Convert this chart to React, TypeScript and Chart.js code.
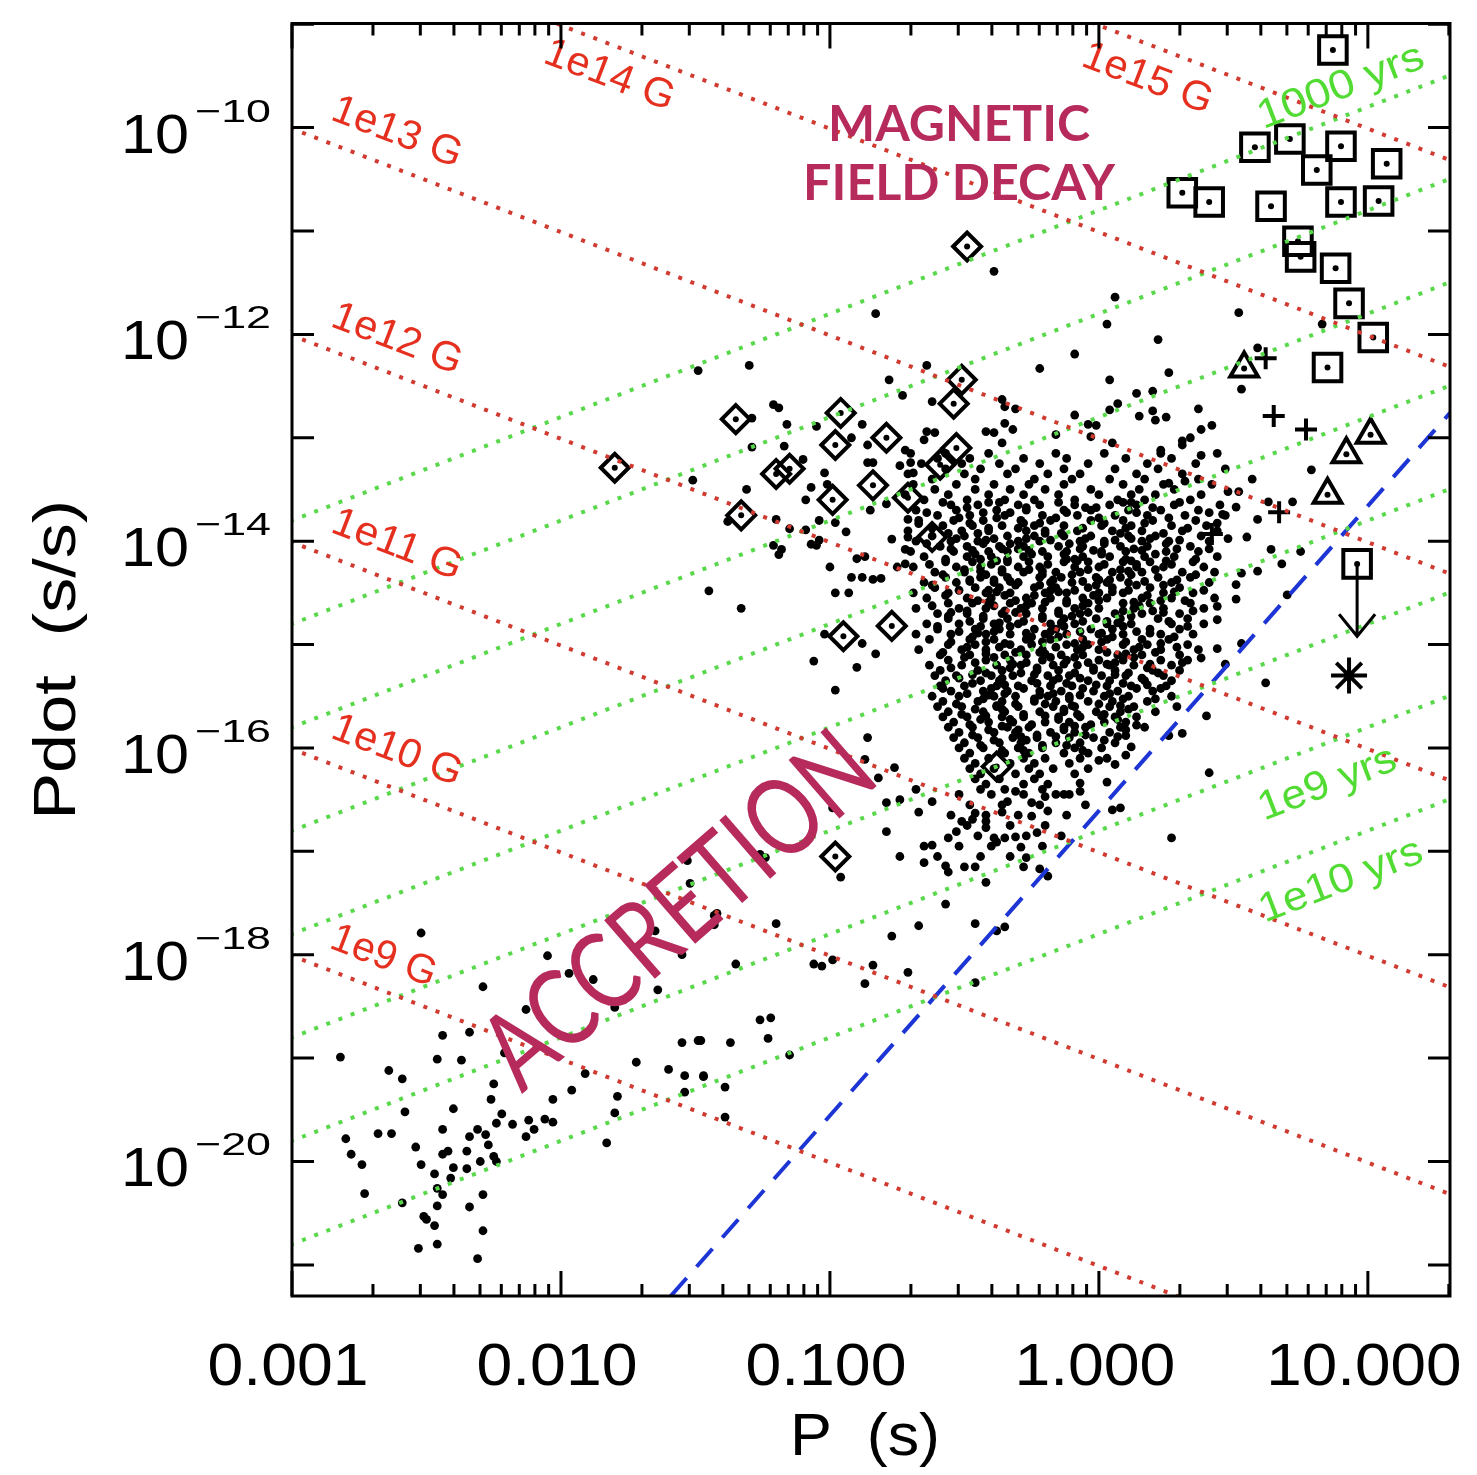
import React, { useEffect, useRef } from "react";
import { Chart, registerables } from "chart.js";

Chart.register(...registerables);

// ---- axis ranges ----
const P_MIN = 0.001;
const P_MAX = 20.2;
const PDOT_MIN = 5.0e-22;
const PDOT_MAX = 1.016e-9;

const xTickValues = [0.001, 0.01, 0.1, 1, 10];
const xTickLabels = ["0.001", "0.010", "0.100", "1.000", "10.000"];
const yTickExponents = [-10, -12, -14, -16, -18, -20];

// ---- theoretical lines ----
const fieldStrengthsG = [1e9, 1e10, 1e11, 1e12, 1e13, 1e14, 1e15];
const characteristicAgesYr = [1e3, 1e4, 1e5, 1e6, 1e7, 1e8, 1e9, 1e10];
const deathLineP = [0.0256, 20.2];
const deathLinePdot = [5.0e-22, 1.74e-13];

// ---- data, in [log10 P, log10 Pdot] ----
const isolatedPulsars: [number, number][] = [
  [-0.39,-11.39],[0.06,-11.64],[0.03,-11.90],[0.52,-11.79],[0.22,-12.05],[-0.09,-12.19],[-0.22,-12.33],[-0.64,-12.30],
  [0.04,-12.44],[0.26,-12.37],[0.53,-12.53],[-0.78,-12.44],[-0.73,-12.59],[-0.62,-12.65],[0.14,-12.57],[0.20,-12.55],
  [0.07,-12.67],[0.04,-12.73],[0.37,-12.72],[-0.09,-12.78],[-0.35,-12.70],[-0.31,-12.72],[-0.36,-12.63],[0.15,-12.79],
  [0.20,-12.74],[0.21,-12.83],[0.25,-12.80],[-0.35,-12.86],[-0.32,-12.92],[-0.42,-12.94],[-0.39,-12.95],[-0.01,-12.88],
  [-0.04,-12.87],[-0.03,-12.99],[0.38,-12.92],[0.42,-12.88],[0.34,-13.00],[-0.64,-12.94],[-0.61,-12.95],[-0.65,-13.02],
  [-0.36,-13.05],[-0.16,-12.97],[0.05,-13.05],[0.31,-13.03],[-0.83,-11.80],[-1.49,-12.35],[-1.30,-12.30],[0.83,-11.90],
  [0.59,-12.13],[0.31,-13.07],[0.23,-13.12],[0.38,-13.17],
  [0.79,-13.31],[0.57,-13.40],[0.26,-13.44],[0.32,-13.42],[0.48,-13.52],[0.52,-13.52],[0.72,-13.62],[0.63,-13.62],
  [0.59,-13.79],[0.51,-13.67],[0.46,-13.74],[0.64,-14.08],[0.75,-14.10],[0.68,-14.22],[0.55,-13.96],[0.59,-14.29],
  [0.53,-14.31],[0.51,-14.42],[0.51,-14.56],[0.44,-14.63],[0.44,-14.76],[0.70,-14.52],[0.53,-14.99],[0.44,-15.04],
  [0.47,-15.19],[0.62,-15.37],[0.38,-15.13],
  [-1.21,-12.68],[-1.19,-12.71],[-1.29,-12.81],[-1.16,-12.87],[-1.29,-13.09],[-1.17,-13.08],[-1.05,-12.89],[-1.51,-13.41],
  [-1.31,-13.50],[-1.10,-13.21],[-1.02,-13.34],[-1.07,-13.48],[-1.09,-13.60],[-1.01,-13.45],[-0.88,-12.87],[-0.92,-13.00],
  [-0.86,-13.07],[-0.74,-13.27],[-0.70,-13.24],[-0.69,-13.34],[-0.86,-13.24],[-0.84,-13.24],[-0.72,-13.12],[-1.04,-13.80],
  [-0.98,-13.82],[-1.04,-13.99],[-0.94,-13.91],[-1.20,-13.79],[-1.21,-14.04],[-1.18,-14.08],[-1.19,-14.13],[-1.15,-13.88],
  [-1.07,-14.03],[-1.05,-14.04],[-1.09,-13.89],[-1.00,-14.25],[-0.92,-14.35],[-0.88,-14.35],[-0.84,-14.37],[-0.81,-14.36],
  [-0.90,-14.17],[-0.87,-14.15],[-0.77,-13.98],[-0.85,-13.70],[-0.79,-13.64],[-0.71,-13.79],[-0.67,-13.83],[-0.71,-13.96],
  [-0.72,-14.08],[-0.75,-14.25],[-0.72,-14.22],[-1.38,-13.81],[-1.45,-14.48],[-1.33,-14.65],
  [-0.98,-14.50],[-0.93,-14.50],[-1.02,-14.90],[-0.88,-14.99],[-1.06,-15.16],[-0.90,-15.22],[-0.83,-15.09],[-0.98,-15.44],
  [-0.86,-15.90],[-0.87,-16.11],[-0.99,-16.58],[-0.96,-17.25],[-1.53,-17.09],[-1.26,-17.03],[-1.24,-17.06],[-1.52,-17.31],
  [-1.42,-17.60],
  [-0.76,-16.19],[-0.82,-16.29],[-0.68,-16.40],[-0.79,-16.53],[-0.74,-16.50],[-0.62,-16.52],[-0.67,-16.62],[-0.79,-16.81],
  [-0.74,-17.05],[-0.65,-16.95],[-0.62,-16.94],[-0.65,-17.11],[-0.60,-17.05],[-0.57,-17.14],[-0.56,-17.20],[-0.46,-17.15],
  [-0.57,-17.51],[-0.67,-17.72],[-0.77,-17.82],[-0.46,-17.70],[-0.38,-17.77],[-0.35,-17.73],[-0.22,-17.17],[-0.19,-17.24],
  [-0.27,-17.06],[-0.29,-16.96],[-0.39,-16.87],[-0.35,-16.87],[-0.38,-16.91],[-0.31,-16.86],[-0.23,-16.82],[-0.25,-16.66],
  [-0.19,-16.61],[-0.42,-16.77],[-0.56,-16.87],[-0.53,-16.81],[-0.47,-16.69],[-0.46,-16.63],[-0.51,-16.71],[-0.42,-16.71],
  [-0.36,-16.62],[-0.34,-16.52],[-0.31,-16.42],[-0.25,-16.53],[-0.20,-16.47],[-0.16,-16.45],[-0.11,-16.45],[-0.07,-16.34],
  [-0.07,-16.42],[0.00,-16.12],[0.03,-16.33],[0.05,-16.60],[0.08,-16.58],[0.06,-16.16],[0.10,-16.07],[0.12,-15.99],
  [0.26,-15.88],[0.31,-15.86],[0.41,-16.24],[0.40,-15.69],[0.27,-16.87],[0.14,-15.78],[0.10,-15.88],
  [-1.43,-17.62],[-1.43,-17.71],[-1.20,-17.70],[-1.35,-18.09],[-1.06,-18.09],[-1.03,-18.11],[-0.99,-18.05],[-0.84,-18.10],
  [-0.87,-18.28],[-0.71,-18.17],[-0.46,-18.27],[-1.26,-18.63],[-1.22,-18.61],[-1.23,-18.81],[-1.37,-18.85],[-1.48,-18.83],
  [-1.15,-18.97],[-1.47,-19.18],[-1.39,-19.28],[-1.39,-19.57],
];

// dense cloud of normal pulsars: [log10 Pdot, log10 P values]
const cloudRows: [number, number[]][] = [
  [-13.15, [-0.70, -0.57, -0.41, -0.16, 0.02, 0.23, 0.44]],
  [-13.20, [-0.60, -0.48, -0.28, -0.12, 0.10, 0.27]],
  [-13.25, [-0.66, -0.51, -0.37, -0.22, -0.04, 0.18, 0.36]],
  [-13.30, [-0.57, -0.44, -0.31, -0.13, 0.06, 0.22, 0.47]],
  [-13.35, [-0.71, -0.50, -0.34, -0.19, -0.07, 0.14, 0.31]],
  [-13.40, [-0.62, -0.46, -0.24, -0.10, 0.04, 0.17, 0.37]],
  [-13.45, [-0.69, -0.53, -0.39, -0.26, -0.13, 0.09, 0.24, 0.42]],
  [-13.50, [-0.61, -0.46, -0.33, -0.20, -0.03, 0.15, 0.28]],
  [-13.55, [-0.72, -0.56, -0.41, -0.28, -0.15, 0.00, 0.12, 0.21, 0.38]],
  [-13.60, [-0.65, -0.49, -0.35, -0.24, -0.09, 0.07, 0.17, 0.34]],
  [-13.65, [-0.55, -0.45, -0.30, -0.22, -0.09, 0.04, 0.14, 0.28, 0.45]],
  [-13.70, [-0.68, -0.53, -0.38, -0.27, -0.13, -0.03, 0.11, 0.23, 0.37]],
  [-13.75, [-0.60, -0.48, -0.35, -0.21, -0.08, 0.06, 0.18, 0.32, 0.47]],
  [-13.80, [-0.67, -0.54, -0.43, -0.29, -0.18, -0.03, 0.09, 0.20, 0.36]],
  [-13.85, [-0.58, -0.47, -0.36, -0.24, -0.13, 0.01, 0.12, 0.27, 0.40]],
  [-13.90, [-0.71, -0.51, -0.41, -0.27, -0.20, -0.08, 0.05, 0.16, 0.31, 0.44]],
  [-13.95, [-0.62, -0.50, -0.34, -0.24, -0.13, -0.03, 0.11, 0.21, 0.38]],
  [-14.00, [-0.68, -0.55, -0.45, -0.30, -0.22, -0.07, 0.02, 0.16, 0.26, 0.41]],
  [-14.05, [-0.59, -0.49, -0.37, -0.28, -0.15, -0.06, 0.08, 0.18, 0.34]],
  [-14.10, [-0.70, -0.54, -0.41, -0.34, -0.21, -0.12, 0.01, 0.10, 0.25, 0.37]],
  [-14.15, [-0.65, -0.49, -0.40, -0.28, -0.19, -0.06, 0.04, 0.17, 0.28, 0.44]],
  [-14.20, [-0.57, -0.47, -0.34, -0.26, -0.13, -0.04, 0.09, 0.19, 0.35]],
  [-14.25, [-0.69, -0.53, -0.44, -0.30, -0.22, -0.09, 0.00, 0.14, 0.24, 0.39]],
  [-14.30, [-0.61, -0.50, -0.36, -0.28, -0.16, -0.07, 0.05, 0.16, 0.31, 0.43]],
  [-14.35, [-0.57, -0.44, -0.34, -0.22, -0.14, -0.01, 0.08, 0.22, 0.34]],
  [-14.40, [-0.65, -0.53, -0.39, -0.30, -0.18, -0.10, 0.03, 0.11, 0.27, 0.41]],
  [-14.45, [-0.61, -0.46, -0.37, -0.24, -0.16, -0.04, 0.05, 0.19, 0.30]],
  [-14.50, [-0.69, -0.56, -0.42, -0.33, -0.20, -0.12, 0.00, 0.09, 0.24, 0.35]],
  [-14.55, [-0.64, -0.49, -0.40, -0.27, -0.18, -0.06, 0.03, 0.16, 0.27, 0.43]],
  [-14.60, [-0.56, -0.47, -0.33, -0.25, -0.12, -0.04, 0.09, 0.19, 0.34]],
  [-14.65, [-0.68, -0.52, -0.42, -0.29, -0.21, -0.09, 0.00, 0.13, 0.24, 0.39]],
  [-14.70, [-0.60, -0.49, -0.36, -0.27, -0.15, -0.07, 0.06, 0.16, 0.30]],
  [-14.75, [-0.56, -0.43, -0.34, -0.21, -0.13, -0.01, 0.08, 0.22, 0.33]],
  [-14.80, [-0.64, -0.52, -0.39, -0.30, -0.18, -0.09, 0.03, 0.12, 0.27, 0.39]],
  [-14.85, [-0.60, -0.46, -0.37, -0.24, -0.16, -0.03, 0.05, 0.19, 0.30]],
  [-14.90, [-0.68, -0.55, -0.42, -0.33, -0.20, -0.12, 0.00, 0.09, 0.23, 0.35]],
  [-14.95, [-0.63, -0.48, -0.39, -0.27, -0.18, -0.06, 0.03, 0.16, 0.26]],
  [-15.00, [-0.56, -0.46, -0.33, -0.25, -0.12, -0.04, 0.09, 0.18, 0.33]],
  [-15.05, [-0.67, -0.51, -0.42, -0.29, -0.21, -0.08, 0.00, 0.13, 0.23, 0.37]],
  [-15.10, [-0.59, -0.48, -0.35, -0.27, -0.14, -0.06, 0.07, 0.16, 0.30]],
  [-15.15, [-0.56, -0.42, -0.33, -0.21, -0.12, 0.00, 0.09, 0.23, 0.33]],
  [-15.20, [-0.63, -0.51, -0.38, -0.29, -0.17, -0.08, 0.04, 0.13, 0.27]],
  [-15.25, [-0.59, -0.45, -0.36, -0.23, -0.15, -0.02, 0.06, 0.20, 0.30]],
  [-15.30, [-0.61, -0.53, -0.40, -0.32, -0.19, -0.11, 0.01, 0.10, 0.24]],
  [-15.35, [-0.57, -0.44, -0.37, -0.25, -0.17, -0.04, 0.04, 0.17, 0.27]],
  [-15.40, [-0.59, -0.50, -0.38, -0.30, -0.18, -0.10, 0.03, 0.12, 0.25]],
  [-15.45, [-0.55, -0.43, -0.34, -0.22, -0.14, -0.02, 0.07, 0.20]],
  [-15.50, [-0.62, -0.52, -0.39, -0.31, -0.19, -0.11, 0.02, 0.11, 0.27]],
  [-15.55, [-0.58, -0.45, -0.36, -0.24, -0.16, -0.04, 0.05, 0.18]],
  [-15.60, [-0.60, -0.51, -0.38, -0.30, -0.17, -0.09, 0.04, 0.13, 0.29]],
  [-15.65, [-0.56, -0.43, -0.35, -0.22, -0.13, -0.01, 0.08, 0.21]],
  [-15.70, [-0.58, -0.49, -0.36, -0.28, -0.15, -0.07, 0.06, 0.14]],
  [-15.75, [-0.54, -0.41, -0.32, -0.20, -0.11, 0.02, 0.10]],
  [-15.80, [-0.56, -0.47, -0.34, -0.26, -0.13, -0.05, 0.08, 0.17]],
  [-15.85, [-0.52, -0.39, -0.31, -0.18, -0.09, 0.04]],
  [-15.90, [-0.54, -0.45, -0.32, -0.23, -0.11, -0.02]],
  [-15.95, [-0.50, -0.37, -0.29, -0.16, -0.07, 0.06]],
  [-16.00, [-0.52, -0.43, -0.30, -0.21, -0.09, 0.01]],
  [-16.05, [-0.48, -0.35, -0.26, -0.13, -0.04]],
  [-16.10, [-0.50, -0.41, -0.28, -0.20, -0.07, 0.03]],
  [-16.15, [-0.46, -0.33, -0.24, -0.11]],
  [-16.20, [-0.48, -0.39, -0.26, -0.17, -0.04]],
  [-16.25, [-0.44, -0.31, -0.22, -0.09]],
  [-16.30, [-0.46, -0.37, -0.24]],
  [-16.35, [-0.42, -0.28, -0.19]],
  [-16.40, [-0.44, -0.35, -0.21]],
  [-16.45, [-0.52, -0.40, -0.28, -0.13]],
  [-16.55, [-0.48, -0.36, -0.22, -0.05]],
  [-16.65, [-0.55, -0.42, -0.30, -0.12]],
  [-16.75, [-0.49, -0.33, -0.20]],
  [-16.85, [-0.45, -0.27, -0.14]],
  [-16.95, [-0.52, -0.40, -0.21]],
  [-17.05, [-0.44, -0.33]],
  [-17.15, [-0.50, -0.28]],
  [-17.30, [-0.42]],
];

// second, interleaved set of cloud rows for the densest part
const cloudCoreRows: [number, number[]][] = [
  [-13.625, [-0.58, -0.41, -0.37, -0.15, 0.09, 0.12, 0.30]],
  [-13.675, [-0.49, -0.27, -0.05, -0.01, 0.20]],
  [-13.725, [-0.64, -0.43, -0.33, -0.12, 0.14, 0.41]],
  [-13.775, [-0.52, -0.38, -0.16, 0.00, 0.26]],
  [-13.825, [-0.48, -0.28, -0.22, 0.02, 0.17, 0.44]],
  [-13.875, [-0.62, -0.41, -0.30, -0.06, 0.10, 0.33]],
  [-13.925, [-0.56, -0.45, -0.20, -0.14, 0.08, 0.24]],
  [-13.975, [-0.53, -0.39, -0.27, -0.05, 0.12, 0.19, 0.48]],
  [-14.025, [-0.64, -0.43, -0.33, -0.11, 0.02, 0.25]],
  [-14.075, [-0.55, -0.36, -0.30, -0.07, 0.13, 0.29, 0.41]],
  [-14.125, [-0.46, -0.25, -0.13, 0.01, 0.21]],
  [-14.175, [-0.57, -0.44, -0.34, -0.12, -0.09, 0.10, 0.36]],
  [-14.225, [-0.63, -0.40, -0.19, 0.02, 0.14, 0.27]],
  [-14.275, [-0.50, -0.36, -0.26, -0.04, 0.08, 0.21]],
  [-14.325, [-0.58, -0.42, -0.21, -0.10, 0.12, 0.36]],
  [-14.375, [-0.48, -0.39, -0.17, 0.00, 0.04, 0.29]],
  [-14.425, [-0.62, -0.31, -0.22, -0.01, 0.14, 0.24]],
  [-14.475, [-0.52, -0.41, -0.18, -0.09, 0.11, 0.39]],
  [-14.525, [-0.57, -0.35, -0.24, -0.02, 0.18]],
  [-14.575, [-0.45, -0.31, -0.12, 0.00, 0.23, 0.32]],
  [-14.625, [-0.62, -0.39, -0.27, -0.06, 0.15]],
  [-14.675, [-0.49, -0.35, -0.15, 0.09, 0.20, 0.35]],
  [-14.725, [-0.56, -0.43, -0.21, -0.10, 0.12]],
  [-14.775, [-0.48, -0.28, -0.06, 0.03, 0.26]],
  [-14.825, [-0.60, -0.44, -0.33, -0.13, 0.09, 0.33]],
  [-14.875, [-0.52, -0.39, -0.18, -0.07, 0.14]],
  [-14.925, [-0.47, -0.25, -0.15, 0.05, 0.28]],
  [-14.975, [-0.55, -0.42, -0.21, 0.01, 0.10]],
  [-15.025, [-0.49, -0.37, -0.16, -0.06, 0.15, 0.29]],
  [-15.075, [-0.58, -0.31, -0.22, 0.03, 0.21]],
  [-15.125, [-0.50, -0.39, -0.18, -0.09, 0.13]],
  [-15.175, [-0.46, -0.27, -0.04, 0.06, 0.31]],
  [-15.225, [-0.55, -0.33, -0.23, -0.02, 0.18]],
  [-15.275, [-0.42, -0.29, -0.09, 0.11, 0.22]],
  [-15.325, [-0.52, -0.36, -0.15, -0.07, 0.16]],
  [-15.375, [-0.47, -0.23, -0.12, 0.09]],
  [-15.425, [-0.58, -0.40, -0.28, -0.06, 0.14, 0.23]],
  [-15.475, [-0.49, -0.35, -0.17, 0.04]],
  [-15.525, [-0.43, -0.24, -0.11, 0.09, 0.21]],
  [-15.575, [-0.53, -0.31, -0.20, 0.00]],
  [-15.625, [-0.46, -0.36, -0.13, 0.11]],
  [-15.675, [-0.51, -0.28, -0.08, 0.02]],
  [-15.725, [-0.44, -0.33, -0.15, 0.07]],
  [-15.775, [-0.48, -0.25, -0.03]],
  [-15.825, [-0.41, -0.30, -0.13, 0.10]],
  [-15.875, [-0.47, -0.23, -0.05]],
  [-15.925, [-0.39, -0.27, 0.02]],
  [-15.975, [-0.44, -0.21, -0.12]],
  [-16.025, [-0.36, -0.28, -0.06]],
];

// third set filling the very core of the cloud
const cloudInnerRows: [number, number[]][] = [
  [-13.99, [-0.42, -0.18, 0.06, 0.30]],
  [-14.09, [-0.47, -0.26, -0.02, 0.16]],
  [-14.19, [-0.38, -0.08, 0.12, 0.25]],
  [-14.29, [-0.44, -0.21, 0.11]],
  [-14.39, [-0.48, -0.33, -0.06, 0.17]],
  [-14.49, [-0.38, -0.15, 0.05, 0.28]],
  [-14.59, [-0.41, -0.20, 0.13]],
  [-14.69, [-0.55, -0.31, -0.04, 0.24]],
  [-14.79, [-0.37, -0.14, 0.07]],
  [-14.89, [-0.45, -0.27, 0.01, 0.19]],
  [-14.99, [-0.35, -0.09, 0.23]],
  [-15.09, [-0.42, -0.20, 0.10]],
  [-15.19, [-0.32, -0.13, 0.03, 0.19]],
  [-15.29, [-0.47, -0.24, 0.06]],
  [-15.39, [-0.35, -0.01, 0.18]],
  [-15.49, [-0.41, -0.22, -0.07]],
  [-15.59, [-0.38, -0.10, 0.08]],
  [-15.69, [-0.42, -0.20, 0.01]],
  [-15.79, [-0.36, -0.09]],
  [-15.89, [-0.29, -0.16, 0.07]],
];

const millisecondPulsars: [number, number][] = [
  [-2.52,-17.79],[-2.05,-18.01],[-1.97,-18.18],[-1.88,-18.24],[-2.29,-18.31],[-1.65,-17.77],[-1.55,-18.00],[-1.64,-18.34],
  [-1.80,-18.51],[-2.13,-18.53],[-2.44,-18.78],[-2.34,-18.75],[-2.82,-18.99],[-2.46,-19.01],[-2.37,-19.02],[-2.21,-18.95],
  [-2.64,-19.12],[-2.59,-19.20],[-2.25,-19.25],[-2.26,-19.40],[-2.40,-19.49],[-2.58,-19.52],[-2.44,-19.69],[-2.22,-19.54],
  [-2.18,-19.64],[-2.24,-19.63],[-2.12,-19.60],[-2.06,-19.59],[-2.03,-19.62],[-2.10,-19.69],[-2.13,-19.76],[-2.03,-19.40],
  [-1.96,-19.31],[-1.91,-19.15],[-1.79,-19.37],[-1.80,-19.53],[-1.72,-19.04],[-1.60,-19.11],[-1.55,-18.85],[-1.49,-18.83],
  [-1.54,-19.17],[-1.47,-19.17],[-1.54,-19.33],[-1.83,-19.82],[-2.68,-19.73],[-2.63,-19.73],[-2.80,-19.78],[-2.78,-19.93],
  [-2.74,-20.03],[-2.73,-20.31],[-2.59,-20.40],[-2.54,-19.86],[-2.52,-20.03],[-2.47,-20.12],[-2.41,-20.16],[-2.44,-19.93],
  [-2.42,-19.90],[-2.40,-20.06],[-2.35,-19.90],[-2.35,-20.07],[-2.34,-19.76],[-2.31,-19.69],[-2.30,-20.00],[-2.28,-19.74],
  [-2.27,-19.84],[-2.25,-19.95],[-2.24,-20.00],[-2.46,-20.26],[-2.44,-20.32],[-2.46,-20.43],[-2.51,-20.53],[-2.50,-20.56],
  [-2.47,-20.62],[-2.34,-20.44],[-2.29,-20.32],[-2.29,-20.67],[-2.53,-20.84],[-2.46,-20.80],[-2.31,-20.94],
];

// diamonds (open rotated squares with a dot)
const diamondSources: [number, number][] = [
  [-0.49,-11.15],[-1.80,-13.29],[-1.35,-12.82],[-1.33,-13.75],[-0.96,-12.76],[-0.98,-13.07],[-1.20,-13.35],[-1.15,-13.30],
  [-0.99,-13.60],[-0.79,-13.00],[-0.84,-13.46],[-0.71,-13.58],[-0.51,-12.44],[-0.54,-12.67],[-0.53,-13.10],[-0.59,-13.26],
  [-0.62,-13.96],[-0.95,-14.92],[-0.77,-14.82],[-0.98,-17.05],[-0.38,-16.18],
];

// squares (magnetars)
const magnetars: [number, number][] = [
  [0.87,-9.25],[0.58,-10.19],[0.71,-10.11],[0.90,-10.18],[0.81,-10.41],[1.07,-10.35],[0.31,-10.63],[0.41,-10.72],
  [0.64,-10.76],[0.90,-10.72],[1.04,-10.71],[0.74,-11.10],[0.75,-11.25],[0.88,-11.36],[0.93,-11.70],[1.02,-12.03],
  [0.85,-12.32],[0.96,-14.22],
];
const upperLimitSource: [number, number] = [0.96, -14.22];
const upperLimitArrowEnd: [number, number] = [0.96, -14.92];
const triangleSources: [number, number][] = [[0.54,-12.33],[1.01,-12.97],[0.92,-13.16],[0.85,-13.55]];
const plusSources: [number, number][] = [[0.62,-12.23],[0.65,-12.79],[0.77,-12.92],[0.67,-13.72],[0.42,-13.93]];
const starSources: [number, number][] = [[0.93,-15.30]];

// ---- annotation texts: [text, log10 P, log10 Pdot, width] ----
const fieldLabels: [string, number, number, number][] = [
  ["1e14 G", -1.82, -9.50, 136], ["1e15 G", 0.18, -9.53, 136], ["1e13 G", -2.61, -10.05, 136],
  ["1e12 G", -2.61, -12.05, 136], ["1e11 G", -2.61, -14.04, 136], ["1e10 G", -2.61, -16.03, 136],
  ["1e9 G", -2.66, -18.02, 110],
];
const ageLabels: [string, number, number, number][] = [
  ["1000 yrs", 0.90, -9.61, 175], ["1e9 yrs", 0.85, -16.35, 145], ["1e10 yrs", 0.90, -17.29, 172],
];

const toXY = (arr: [number, number][]) => arr.map(([lp, lpd]) => ({ x: Math.pow(10, lp), y: Math.pow(10, lpd) }));

const RED_LINE = "#d03a30";
const GREEN_LINE = "#58d84a";
const RED_TEXT = "#e5301f";
const GREEN_TEXT = "#52dc33";
const PURPLE = "#b62b5c";

function fitText(ctx: CanvasRenderingContext2D, text: string, x: number, y: number, font: string, color: string,
  width: number | null, angle: number, align: CanvasTextAlign = "center", baseline: CanvasTextBaseline = "middle") {
  ctx.save();
  ctx.font = font;
  ctx.fillStyle = color;
  ctx.translate(x, y);
  ctx.rotate(angle);
  const w = ctx.measureText(text).width;
  if (width) ctx.scale(width / w, 1);
  ctx.textAlign = align;
  ctx.textBaseline = baseline;
  ctx.fillText(text, 0, 0);
  ctx.restore();
}

const overlayPlugin = {
  id: "overlay",
  afterDatasetsDraw(chart: any) {
    const { ctx, chartArea: a, scales } = chart;
    const xs = scales.x, ys = scales.y;
    const px = (lp: number) => xs.getPixelForValue(Math.pow(10, lp));
    const py = (lpd: number) => ys.getPixelForValue(Math.pow(10, lpd));
    const bAngle = Math.atan2(py(-12) - py(-11), px(0) - px(-1));

    // upper-limit arrow
    ctx.save();
    ctx.strokeStyle = "#000";
    ctx.lineWidth = 3;
    const ax = px(upperLimitSource[0]);
    const ay0 = py(upperLimitSource[1]);
    const ay1 = py(upperLimitArrowEnd[1]);
    ctx.beginPath();
    ctx.moveTo(ax, ay0);
    ctx.lineTo(ax, ay1);
    ctx.moveTo(ax - 18, ay1 - 22);
    ctx.lineTo(ax, ay1);
    ctx.lineTo(ax + 18, ay1 - 22);
    ctx.stroke();
    ctx.restore();

    // field labels
    for (const [t, lp, lpd, w] of fieldLabels) {
      fitText(ctx, t, px(lp), py(lpd), '41px "Liberation Sans"', RED_TEXT, w, bAngle);
    }
    for (const [t, lp, lpd, w] of ageLabels) {
      fitText(ctx, t, px(lp), py(lpd), '41px "Liberation Sans"', GREEN_TEXT, w, -bAngle);
    }
    // region labels
    fitText(ctx, "MAGNETIC", px(-0.52), py(-9.98), 'bold 49px Lato', PURPLE, 262, 0);
    fitText(ctx, "FIELD DECAY", px(-0.52), py(-10.55), 'bold 49px Lato', PURPLE, 312, 0);
    fitText(ctx, "ACCRETION", px(-1.56), py(-17.58), '108px Lato', PURPLE, 478, -41 * Math.PI / 180);

    // frame
    ctx.save();
    ctx.strokeStyle = "#000";
    ctx.lineWidth = 3;
    ctx.strokeRect(a.left, a.top, a.right - a.left, a.bottom - a.top);
    ctx.beginPath();
    for (let e = -21; e <= -9; e++) {
      const y = py(e);
      if (y < a.top - 1 || y > a.bottom + 1) continue;
      ctx.moveTo(a.left, y); ctx.lineTo(a.left + 22, y);
      ctx.moveTo(a.right, y); ctx.lineTo(a.right - 22, y);
    }
    for (let d = -3; d <= 1; d++) {
      for (let m = 1; m <= 9; m++) {
        const v = m * Math.pow(10, d);
        if (v < P_MIN || v > P_MAX) continue;
        const x = xs.getPixelForValue(v);
        const len = m === 1 ? 25 : 12;
        ctx.moveTo(x, a.bottom); ctx.lineTo(x, a.bottom - len);
        ctx.moveTo(x, a.top); ctx.lineTo(x, a.top + len);
      }
    }
    ctx.stroke();
    ctx.restore();

    // y tick labels
    for (const e of yTickExponents) {
      const y = py(e);
      fitText(ctx, "10", a.left - 103, y + 25, '56px "Liberation Sans"', "#000", 68, 0, "right", "alphabetic");
      fitText(ctx, "\u2212" + String(-e), a.left - 97, y - 6, '32px "Liberation Sans"', "#000", 76, 0, "left", "alphabetic");
    }
    // x tick labels
    xTickValues.forEach((v, i) => {
      const x = xs.getPixelForValue(v) - 4;
      const lbl = xTickLabels[i];
      fitText(ctx, lbl, x, a.bottom + 89, '60px "Liberation Sans"', "#000", lbl.length === 6 ? 195 : 161, 0, "center", "alphabetic");
    });
    // axis titles
    fitText(ctx, "P  (s)", (a.left + a.right) / 2 - 6, a.bottom + 159, '60px "Liberation Sans"', "#000", 150, 0, "center", "alphabetic");
    fitText(ctx, "Pdot  (s/s)", a.left - 217, (a.top + a.bottom) / 2, '60px "Liberation Sans"', "#000", 320, -Math.PI / 2, "center", "alphabetic");
  },
};

export default function App() {
  const canvasRef = useRef<HTMLCanvasElement | null>(null);

  useEffect(() => {
    const canvas = canvasRef.current;
    if (!canvas) return;

    const lineDataset = (data: { x: number; y: number }[], color: string, dash: number[], width: number) => ({
      data, borderColor: color, borderDash: dash, borderWidth: width, showLine: true,
      pointRadius: 0, fill: false, tension: 0,
    });

    const fieldLines = fieldStrengthsG.map((B) =>
      lineDataset([1e-4, 100].map((P) => ({ x: P, y: Math.pow(B / 3.2e19, 2) / P })), RED_LINE, [4, 9], 4));
    const ageLines = characteristicAgesYr.map((t) =>
      lineDataset([1e-4, 100].map((P) => ({ x: P, y: P / (2 * t * 3.156e7) })), GREEN_LINE, [4, 9], 4));
    const death = lineDataset(deathLineP.map((P, i) => ({ x: P, y: deathLinePdot[i] })), "#1d35d4", [24, 15], 4);

    const expand = (rows: [number, number[]][]) =>
      rows.flatMap(([lpd, lps]) => lps.map((lp) => [lp, lpd] as [number, number]));
    const dots = [...isolatedPulsars, ...expand(cloudRows), ...expand(cloudCoreRows), ...expand(cloudInnerRows), ...millisecondPulsars];

    const markerDataset = (data: [number, number][], style: string, radius: number) => ({
      data: toXY(data), showLine: false, pointStyle: style, pointRadius: radius, radius,
      pointBorderWidth: 4, borderWidth: 4, pointBorderColor: "#000", borderColor: "#000",
      pointBackgroundColor: "rgba(0,0,0,0)", backgroundColor: "rgba(0,0,0,0)",
    });
    const dotDataset = (data: [number, number][], radius: number) => ({
      data: toXY(data), showLine: false, pointStyle: "circle", pointRadius: radius, radius,
      pointBorderWidth: 0, borderWidth: 0, pointBorderColor: "#000", pointBackgroundColor: "#000", backgroundColor: "#000",
    });

    const chart = new Chart(canvas, {
      type: "scatter",
      data: {
        datasets: [
          ...fieldLines,
          ...ageLines,
          death,
          markerDataset(magnetars, "rect", 19.5),
          markerDataset(diamondSources, "rectRot", 14),
          markerDataset(triangleSources, "triangle", 16),
          markerDataset(plusSources, "cross", 11),
          markerDataset(starSources, "star", 18),
          dotDataset([...magnetars, ...diamondSources, ...triangleSources], 3),
          dotDataset(dots, 4.4),
        ] as any,
      },
      options: {
        responsive: false,
        animation: false,
        events: [],
        layout: { padding: { left: 292, top: 12, right: 27, bottom: 179 } },
        plugins: { legend: { display: false }, tooltip: { enabled: false } },
        scales: {
          x: { type: "logarithmic", min: P_MIN, max: P_MAX, display: false },
          y: { type: "logarithmic", min: PDOT_MIN, max: PDOT_MAX, display: false },
        },
      },
      plugins: [overlayPlugin],
    });
    return () => chart.destroy();
  }, []);

  return (
    <div style={{ position: "absolute", left: 0, top: 0, width: 1477, height: 1475, background: "#fff" }}>
      <canvas ref={canvasRef} width={1477} height={1475} style={{ display: "block" }} />
    </div>
  );
}
